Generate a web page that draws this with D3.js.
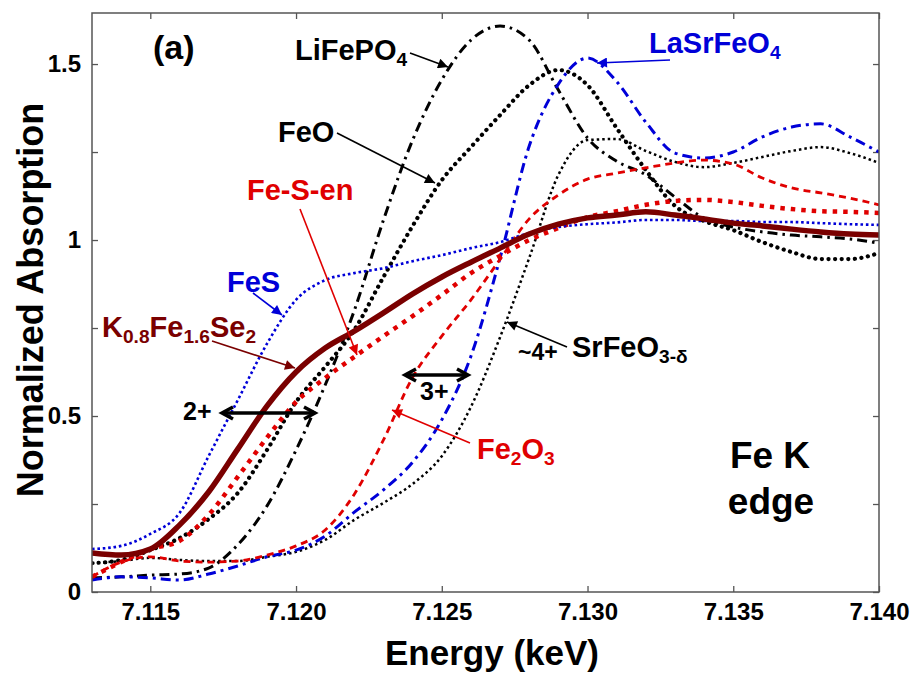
<!DOCTYPE html>
<html>
<head>
<meta charset="utf-8">
<script src="https://cdn.jsdelivr.net/npm/d3@7"></script>
<style>
  body { margin: 0; background: #fff; }
  svg { display: block; font-family: "Liberation Sans", Arial, Helvetica, sans-serif; font-weight: bold; }
</style>
</head>
<body>
<svg id="chart" width="910" height="673"></svg>
<script>
// energy grid (keV) and normalized absorption
const energy = [7.113, 7.114, 7.115, 7.116, 7.117, 7.118, 7.119, 7.120, 7.121, 7.122,
                7.123, 7.124, 7.125, 7.126, 7.127, 7.128, 7.129, 7.130, 7.131, 7.132,
                7.133, 7.134, 7.135, 7.136, 7.137, 7.138, 7.139, 7.140];

const fesVals    = [0.122, 0.131, 0.165, 0.224, 0.386, 0.545, 0.705, 0.830, 0.886, 0.906,
                    0.920, 0.940, 0.957, 0.977, 0.994, 1.020, 1.037, 1.045, 1.050, 1.057,
                    1.057, 1.054, 1.054, 1.051, 1.051, 1.048, 1.045, 1.043];
const kfeseVals  = [0.111, 0.105, 0.122, 0.190, 0.284, 0.406, 0.528, 0.625, 0.693, 0.741,
                    0.793, 0.847, 0.895, 0.937, 0.977, 1.017, 1.045, 1.063, 1.071, 1.080,
                    1.071, 1.060, 1.048, 1.040, 1.031, 1.023, 1.017, 1.014];
const fesenVals  = [0.043, 0.085, 0.122, 0.145, 0.219, 0.327, 0.438, 0.540, 0.608, 0.668,
                    0.727, 0.784, 0.844, 0.906, 0.955, 1.000, 1.034, 1.065, 1.082, 1.100,
                    1.111, 1.114, 1.108, 1.097, 1.088, 1.082, 1.080, 1.077];
const feoVals    = [0.082, 0.091, 0.119, 0.153, 0.207, 0.281, 0.403, 0.540, 0.640, 0.745,
                    0.895, 1.040, 1.170, 1.264, 1.355, 1.440, 1.483, 1.440, 1.318, 1.199,
                    1.097, 1.054, 1.028, 0.994, 0.966, 0.946, 0.946, 0.963];
const fe2o3Vals  = [0.043, 0.085, 0.100, 0.088, 0.085, 0.088, 0.105, 0.131, 0.176, 0.278,
                    0.432, 0.610, 0.727, 0.830, 0.945, 1.060, 1.128, 1.173, 1.190, 1.205,
                    1.219, 1.227, 1.216, 1.176, 1.148, 1.134, 1.119, 1.100];
const lasrVals   = [0.034, 0.043, 0.040, 0.034, 0.051, 0.074, 0.100, 0.119, 0.159, 0.227,
                    0.290, 0.369, 0.489, 0.670, 0.949, 1.267, 1.443, 1.517, 1.450, 1.335,
                    1.247, 1.233, 1.250, 1.293, 1.321, 1.330, 1.293, 1.250];
const lifepo4Vals = [0.040, 0.043, 0.048, 0.051, 0.068, 0.134, 0.244, 0.403, 0.588, 0.800,
                    1.057, 1.284, 1.455, 1.568, 1.608, 1.568, 1.426, 1.290, 1.224, 1.185,
                    1.122, 1.062, 1.037, 1.023, 1.014, 1.009, 1.003, 0.991];
const srfeVals   = [0.082, 0.088, 0.097, 0.091, 0.088, 0.088, 0.100, 0.114, 0.148, 0.205,
                    0.253, 0.307, 0.386, 0.526, 0.724, 0.949, 1.185, 1.284, 1.287, 1.253,
                    1.222, 1.207, 1.219, 1.236, 1.253, 1.264, 1.247, 1.219];

const xTicks = [7.115, 7.120, 7.125, 7.130, 7.135, 7.140];
const yTicks = [0, 0.25, 0.5, 0.75, 1, 1.25, 1.5];

const series = [
    { name: 'SrFeO3', values: srfeVals,   color: '#000000', width: 2.5, dash: '2.5,3',      cap: 'butt' },
    { name: 'FeO',    values: feoVals,    color: '#000000', width: 4.2, dash: '0.1,6.5',    cap: 'round' },
    { name: 'LiFePO4', values: lifepo4Vals, color: '#000000', width: 3, dash: '10,5,2.5,5', cap: 'butt' },
    { name: 'LaSrFeO4', values: lasrVals,  color: '#0000d8', width: 3,   dash: '10,5,3,5',   cap: 'butt' },
    { name: 'Fe2O3',  values: fe2o3Vals,  color: '#e00000', width: 2.8, dash: '7,5',        cap: 'butt' },
    { name: 'Fe-S-en', values: fesenVals, color: '#e00000', width: 4.5, dash: '4.5,6',      cap: 'butt' },
    { name: 'FeS',    values: fesVals,    color: '#0000d8', width: 2.6, dash: '2.6,2.8',    cap: 'butt' },
    { name: 'K0.8Fe1.6Se2', values: kfeseVals, color: '#7a0000', width: 5.5, dash: null,   cap: 'round' },
];

const margin = { top: 13, right: 31, bottom: 81, left: 92 };
const W = 910, H = 673;
const width = W - margin.left - margin.right;
const height = H - margin.top - margin.bottom;

const svg = d3.select('#chart');

const defs = svg.append('defs');
function marker(id, color) {
    defs.append('marker')
        .attr('id', id)
        .attr('viewBox', '0 0 10 10')
        .attr('refX', 10).attr('refY', 5)
        .attr('markerWidth', 16).attr('markerHeight', 10)
        .attr('markerUnits', 'userSpaceOnUse')
        .attr('orient', 'auto')
        .append('path')
        .attr('d', 'M0,0 L10,5 L0,10 Z')
        .attr('fill', color);
}
marker('arr-black', '#000');
marker('arr-red', '#e00000');
marker('arr-blue', '#0000d8');
marker('arr-dred', '#7a0000');

const g = svg.append('g').attr('transform', `translate(${margin.left},${margin.top})`);

const x = d3.scaleLinear().domain([7.113, 7.140]).range([0, width]);
const y = d3.scaleLinear().domain([0, 1.645]).range([height, 0]);

// axes, ticks pointing inward
const fmtY = d => (Math.abs(d * 2 - Math.round(d * 2)) < 1e-9 ? String(d) : '');
g.append('g').attr('class', 'axis')
    .attr('transform', `translate(0,${height})`)
    .call(d3.axisBottom(x).tickValues(xTicks).tickFormat(d3.format('.3f')).tickSize(-6).tickPadding(11));
g.append('g').attr('class', 'axis')
    .call(d3.axisLeft(y).tickValues(yTicks).tickFormat(fmtY).tickSize(-6).tickPadding(11));
g.append('g').attr('class', 'axis')
    .call(d3.axisTop(x).tickValues(xTicks).tickFormat('').tickSize(-6));
g.append('g').attr('class', 'axis')
    .attr('transform', `translate(${width},0)`)
    .call(d3.axisRight(y).tickValues(yTicks).tickFormat('').tickSize(-6));

g.selectAll('.axis .domain').remove();
g.selectAll('.axis line').attr('stroke', '#555').attr('stroke-width', 1.3);
g.selectAll('.axis text')
    .attr('fill', '#000')
    .style('font-family', '"Liberation Sans", Arial, sans-serif')
    .style('font-weight', 'bold')
    .style('font-size', '24px');

const clip = defs.append('clipPath').attr('id', 'plot-clip');
clip.append('rect').attr('width', width).attr('height', height);

const line = d3.line()
    .x((d, i) => x(energy[i]))
    .y(d => y(d))
    .curve(d3.curveMonotoneX);

const curves = g.append('g').attr('clip-path', 'url(#plot-clip)');
curves.selectAll('path')
    .data(series)
    .enter()
    .append('path')
    .attr('d', d => line(d.values))
    .attr('fill', 'none')
    .attr('stroke', d => d.color)
    .attr('stroke-width', d => d.width)
    .attr('stroke-dasharray', d => d.dash)
    .attr('stroke-linecap', d => d.cap)
    .attr('stroke-linejoin', 'round');

// frame
g.append('rect')
    .attr('width', width).attr('height', height)
    .attr('fill', 'none')
    .attr('stroke', '#555')
    .attr('stroke-width', 1.5);

// axis titles
svg.append('text')
    .attr('x', 492).attr('y', 665)
    .attr('text-anchor', 'middle')
    .style('font-size', '35px')
    .text('Energy (keV)');
svg.append('text')
    .attr('transform', 'translate(43,300) rotate(-90)')
    .attr('text-anchor', 'middle')
    .style('font-size', '36px')
    .text('Normalized Absorption');

// annotations (page pixels)
function label(px, py, parts, color, size) {
    const t = svg.append('text')
        .attr('x', px).attr('y', py)
        .attr('fill', color)
        .style('font-size', size + 'px');
    let shifted = false;
    parts.forEach(([txt, sub]) => {
        const s = t.append('tspan').text(txt);
        if (sub && !shifted) { s.attr('dy', size * 0.22).style('font-size', (size * 0.66) + 'px'); shifted = true; }
        else if (!sub && shifted) { s.attr('dy', -size * 0.22); shifted = false; }
    });
    return t;
}
function arrow(x1, y1, x2, y2, color, mk) {
    svg.append('line')
        .attr('x1', x1).attr('y1', y1).attr('x2', x2).attr('y2', y2)
        .attr('stroke', color).attr('stroke-width', 1.6)
        .attr('marker-end', `url(#${mk})`);
}
function doubleArrow(x1, x2, yy) {
    const h = 11, v = 6;
    svg.append('line').attr('x1', x1 + 2).attr('y1', yy).attr('x2', x2 - 2).attr('y2', yy)
        .attr('stroke', '#000').attr('stroke-width', 3.5);
    svg.append('path')
        .attr('d', `M${x1 + h},${yy - v} L${x1},${yy} L${x1 + h},${yy + v} M${x2 - h},${yy - v} L${x2},${yy} L${x2 - h},${yy + v}`)
        .attr('fill', 'none').attr('stroke', '#000').attr('stroke-width', 3.5)
        .attr('stroke-linejoin', 'miter');
}

label(153, 59, [['(a)']], '#000', 34);

label(295, 60, [['LiFePO'], ['4', true]], '#000', 29);
arrow(410, 53, 448, 67, '#000', 'arr-black');

label(278, 142, [['FeO']], '#000', 29);
arrow(337, 133, 435, 183, '#000', 'arr-black');

label(247, 200, [['Fe-S-en']], '#e00000', 29);
arrow(300, 209, 357, 355, '#e00000', 'arr-red');

label(227, 292, [['FeS']], '#0000d8', 29);
arrow(253, 293, 282, 315, '#0000d8', 'arr-blue');

label(102, 337, [['K'], ['0.8', true], ['Fe'], ['1.6', true], ['Se'], ['2', true]], '#7a0000', 29);
arrow(212, 341, 295, 368, '#7a0000', 'arr-dred');

label(649, 53, [['LaSrFeO'], ['4', true]], '#0000d8', 29);
arrow(670, 60, 597, 63, '#0000d8', 'arr-blue');

label(572, 357, [['SrFeO'], ['3-\u03b4', true]], '#000', 29);
arrow(567, 347, 507, 322, '#000', 'arr-black');
label(518, 360, [['~4+']], '#000', 23);

label(477, 459, [['Fe'], ['2', true], ['O'], ['3', true]], '#e00000', 29);
arrow(470, 443, 392, 410, '#e00000', 'arr-red');

label(183, 420, [['2+']], '#000', 25);
doubleArrow(222, 315, 413);
label(420, 400, [['3+']], '#000', 25);
doubleArrow(405, 468, 375);

svg.append('text').attr('x', 770).attr('y', 468).attr('text-anchor', 'middle')
    .style('font-size', '37px').text('Fe K');
svg.append('text').attr('x', 771).attr('y', 514).attr('text-anchor', 'middle')
    .style('font-size', '37px').text('edge');
</script>
</body>
</html>
